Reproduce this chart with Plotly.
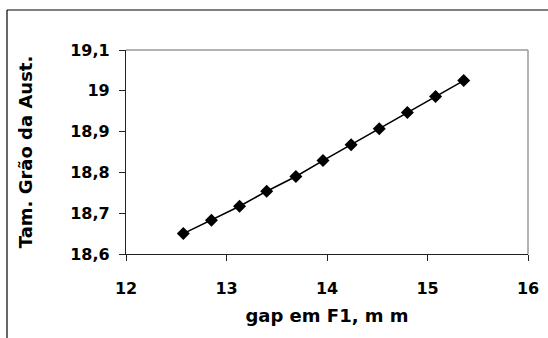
import plotly.graph_objects as go

gap_f1 = [12.57, 12.85, 13.13, 13.40, 13.69, 13.96, 14.24, 14.52, 14.80, 15.08, 15.36]
grain_size = [18.650, 18.683, 18.717, 18.754, 18.790, 18.829, 18.868, 18.907, 18.947, 18.986, 19.025]
x_ticks = [12, 13, 14, 15, 16]
x_tick_labels = ["12", "13", "14", "15", "16"]
y_ticks = [18.6, 18.7, 18.8, 18.9, 19.0, 19.1]
y_tick_labels = ["18,6", "18,7", "18,8", "18,9", "19", "19,1"]
x_title = "gap em F1, m m"
y_title = "Tam. Grão da Aust."

FONT = "DejaVu Sans"

fig = go.Figure()
fig.add_trace(go.Scatter(
    x=gap_f1, y=grain_size, mode="lines+markers",
    line=dict(color="black", width=1.6),
    marker=dict(symbol="diamond", size=10, color="black"),
    showlegend=False,
))

L, R, T, B = 126, 20, 50, 84
W, H = 548, 338
pw, ph = W - L - R, H - T - B

def b(s):
    return "<b>" + s + "</b>"

fig.update_layout(
    width=W, height=H,
    margin=dict(l=L, r=R, t=T, b=B, pad=0, autoexpand=False),
    paper_bgcolor="white", plot_bgcolor="white",
    font=dict(family=FONT, color="black", size=16),
    xaxis=dict(
        range=[12, 16], tickvals=x_ticks, ticktext=[b(t) for t in x_tick_labels],
        showgrid=False, zeroline=False,
        showline=True, linecolor="#222", linewidth=1.2,
        ticks="outside", ticklen=6, tickcolor="#222", tickwidth=1,
        ticklabelstandoff=14,
        tickfont=dict(family=FONT, size=16),
        title=dict(text=b(x_title), font=dict(family=FONT, size=18), standoff=12),
    ),
    yaxis=dict(
        range=[18.6, 19.1], tickvals=y_ticks, ticktext=[b(t) for t in y_tick_labels],
        showgrid=False, zeroline=False,
        showline=True, linecolor="#222", linewidth=1.2,
        ticks="outside", ticklen=6, tickcolor="#222", tickwidth=1,
        ticklabelstandoff=6,
        tickfont=dict(family=FONT, size=16),
        title=dict(text=b(y_title), font=dict(family=FONT, size=18), standoff=32),
    ),
)

# gray top and right frame edges
fig.add_shape(type="line", xref="paper", yref="paper", x0=0, x1=1, y0=1, y1=1,
              line=dict(color="#999", width=1.5))
fig.add_shape(type="line", xref="paper", yref="paper", x0=1, x1=1, y0=0, y1=1,
              line=dict(color="#999", width=1.5))
# outer chart border (left and top edges visible)
bx = (7 - L) / pw
by = (H - B - 10) / ph
fig.add_shape(type="line", xref="paper", yref="paper", x0=bx, x1=bx, y0=by, y1=-1,
              line=dict(color="black", width=1.2))
fig.add_shape(type="line", xref="paper", yref="paper", x0=bx, x1=1.5, y0=by, y1=by,
              line=dict(color="black", width=1.2))

fig.write_html("out.html", config={"displayModeBar": False},
               post_script="document.body.style.margin='0';")
